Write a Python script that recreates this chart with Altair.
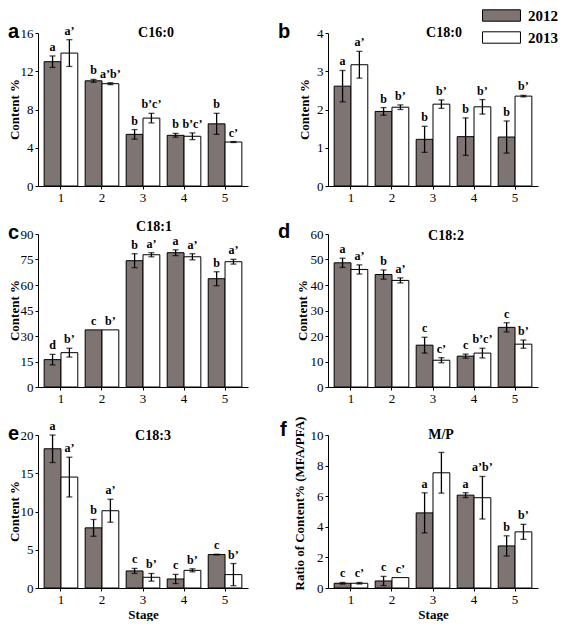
import altair as alt
import pandas as pd

stages = ["1", "2", "3", "4", "5"]
years = ["2012", "2013"]

# C16:0
c160_2012 = [13.0, 11.0, 5.4, 5.3, 6.5]
c160_2012_err = [0.6, 0.15, 0.5, 0.2, 1.1]
c160_2013 = [13.9, 10.7, 7.1, 5.2, 4.6]
c160_2013_err = [1.4, 0.1, 0.5, 0.35, 0.05]
c160_2012_sig = ["a", "b", "b", "b", "b"]
c160_2013_sig = ["a’", "a’b’", "b’c’", "b’c’", "c’"]
c160_ticks = [0, 4, 8, 12, 16]

# C18:0
c180_2012 = [2.61, 1.95, 1.22, 1.29, 1.28]
c180_2012_err = [0.41, 0.1, 0.34, 0.49, 0.42]
c180_2013 = [3.17, 2.06, 2.14, 2.07, 2.35]
c180_2013_err = [0.35, 0.06, 0.11, 0.19, 0.02]
c180_2012_sig = ["a", "b", "b", "b", "b"]
c180_2013_sig = ["a’", "b’", "b’", "b’", "b’"]
c180_ticks = [0, 1, 2, 3, 4]

# C18:1
c181_2012 = [16.1, 33.6, 74.3, 79.0, 63.7]
c181_2012_err = [3.1, 0.0, 4.1, 1.7, 4.1]
c181_2013 = [20.2, 33.6, 77.8, 76.6, 73.7]
c181_2013_err = [2.6, 0.0, 1.2, 1.8, 1.4]
c181_2012_sig = ["d", "c", "b", "a", "b"]
c181_2013_sig = ["b’", "b’", "a’", "a’", "a’"]
c181_ticks = [0, 15, 30, 45, 60, 75, 90]

# C18:2
c182_2012 = [48.7, 44.1, 16.4, 12.1, 23.4]
c182_2012_err = [1.8, 1.8, 3.1, 0.8, 1.8]
c182_2013 = [46.1, 41.8, 10.5, 13.3, 16.8]
c182_2013_err = [1.8, 1.0, 1.0, 1.9, 1.6]
c182_2012_sig = ["a", "b", "c", "c", "c"]
c182_2013_sig = ["a’", "a’", "c’", "b’c’", "b’"]
c182_ticks = [0, 10, 20, 30, 40, 50, 60]

# C18:3
c183_2012 = [18.2, 7.86, 2.23, 1.18, 4.37]
c183_2012_err = [1.8, 1.1, 0.33, 0.6, 0.05]
c183_2013 = [14.5, 10.1, 1.4, 2.31, 1.75]
c183_2013_err = [2.6, 1.5, 0.5, 0.2, 1.45]
c183_2012_sig = ["a", "b", "c", "c", "c"]
c183_2013_sig = ["a’", "a’", "b’", "b’", "b’"]
c183_ticks = [0, 5, 10, 15, 20]

# M/P
mp_2012 = [0.31, 0.46, 4.91, 6.07, 2.75]
mp_2012_err = [0.05, 0.3, 1.31, 0.16, 0.66]
mp_2013 = [0.31, 0.68, 7.53, 5.9, 3.67]
mp_2013_err = [0.05, 0.0, 1.33, 1.39, 0.49]
mp_2012_sig = ["c", "c", "a", "a", "b"]
mp_2013_sig = ["c’", "c’", "", "a’b’", "b’"]
mp_ticks = [0, 2, 4, 6, 8, 10]

SERIF = "Liberation Serif"
SANS = "Liberation Sans"
W, H = 210, 153


def make_df(v12, e12, s12, v13, e13, s13):
    rows = []
    for i, st in enumerate(stages):
        for yr, v, e, s in (("2012", v12[i], e12[i], s12[i]), ("2013", v13[i], e13[i], s13[i])):
            rows.append(dict(stage=st, year=yr, value=v, err=e, lo=v - e, hi=v + e, sig=s))
    return pd.DataFrame(rows)


color = alt.Color(
    "year:N",
    sort=years,
    scale=alt.Scale(domain=years, range=["#7e7471", "#ffffff"]),
    legend=alt.Legend(
        title=None,
        orient="none",
        legendX=456,
        legendY=-25,
        padding=0,
        symbolType="M-3,-0.9H3V0.9H-3Z",
        symbolSize=160,
        symbolStrokeColor="black",
        symbolStrokeWidth=1,
        symbolOpacity=1,
        labelFont=SERIF,
        labelFontSize=15,
        labelFontWeight="bold",
        labelColor="black",
        labelOffset=19,
        rowPadding=5,
    ),
)


def panel(df, title, letter, ticks, ytitle, xtitle, tpos, lpos, ytpos):
    xsc = alt.Scale(paddingInner=0.18, paddingOuter=0.15)
    xax = alt.Axis(labelAngle=0, ticks=True)

    def X():
        return alt.X("stage:N", sort=stages, scale=xsc, axis=xax, title=xtitle)

    def XO():
        return alt.XOffset("year:N", sort=years, scale=alt.Scale(paddingInner=0, paddingOuter=0))

    ysc = alt.Scale(domain=[ticks[0], ticks[-1]], nice=False)
    yax = alt.Axis(
        values=ticks,
        format="d",
        titleX=ytpos[0],
        titleY=ytpos[1],
        titleAngle=270,
        titleAlign="center",
        titleBaseline="middle",
    )

    def Y(f):
        return alt.Y(f, scale=ysc, axis=yax, title=ytitle)

    base = alt.Chart(df)
    bars = base.mark_bar(stroke="black", strokeWidth=1).encode(
        x=X(), xOffset=XO(), y=Y("value:Q"), color=color
    )
    ed = base.transform_filter("datum.err > 0")
    rules = ed.mark_rule(color="black", strokeWidth=1.3).encode(
        x=X(), xOffset=XO(), y=Y("lo:Q"), y2="hi:Q"
    )
    cap_lo = ed.mark_tick(color="black", size=6, thickness=1.3).encode(
        x=X(), xOffset=XO(), y=Y("lo:Q")
    )
    cap_hi = ed.mark_tick(color="black", size=6, thickness=1.3).encode(
        x=X(), xOffset=XO(), y=Y("hi:Q")
    )
    sig = base.mark_text(
        font=SERIF, fontSize=12, fontWeight="bold", baseline="bottom", dy=-2, color="black"
    ).encode(x=X(), xOffset=XO(), y=Y("hi:Q"), text="sig:N")
    ttl = alt.Chart(pd.DataFrame({"t": [title]})).mark_text(
        font=SERIF, fontSize=14, fontWeight="bold", baseline="middle", align="center", color="black"
    ).encode(text="t:N", x=alt.value(tpos[0]), y=alt.value(tpos[1]))
    let = alt.Chart(pd.DataFrame({"t": [letter]})).mark_text(
        font=SANS, fontSize=20, fontWeight="bold", baseline="alphabetic", align="left", color="black"
    ).encode(text="t:N", x=alt.value(lpos[0]), y=alt.value(lpos[1]))
    return alt.layer(bars, rules, cap_lo, cap_hi, sig, ttl, let).properties(width=W, height=H)


df_a = make_df(c160_2012, c160_2012_err, c160_2012_sig, c160_2013, c160_2013_err, c160_2013_sig)
df_b = make_df(c180_2012, c180_2012_err, c180_2012_sig, c180_2013, c180_2013_err, c180_2013_sig)
df_c = make_df(c181_2012, c181_2012_err, c181_2012_sig, c181_2013, c181_2013_err, c181_2013_sig)
df_d = make_df(c182_2012, c182_2012_err, c182_2012_sig, c182_2013, c182_2013_err, c182_2013_sig)
df_e = make_df(c183_2012, c183_2012_err, c183_2012_sig, c183_2013, c183_2013_err, c183_2013_sig)
df_f = make_df(mp_2012, mp_2012_err, mp_2012_sig, mp_2013, mp_2013_err, mp_2013_sig)

pa = panel(df_a, "C16:0", "a", c160_ticks, "Content %", None, (118, 0), (-30, 5), (-24, 76))
pb = panel(df_b, "C18:0", "b", c180_ticks, "Content %", None, (116, 0), (-50, 5), (-24, 76))
pc = panel(df_c, "C18:1", "c", c181_ticks, "Content %", None, (116, -7), (-30, 5), (-24, 76))
pd_ = panel(df_d, "C18:2", "d", c182_ticks, "Content %", None, (118, 2), (-50, 4), (-26, 76))
pe = panel(df_e, "C18:3", "e", c183_ticks, "Content %", "Stage", (115, 1), (-30, 5), (-24, 76))
pf = panel(df_f, "M/P", "f", mp_ticks, "Ratio of Content% (MFA/PFA)", "Stage", (113, 0), (-48, 1), (-29, 68))

chart = (
    alt.concat(pa, pb, pc, pd_, pe, pf, columns=2, spacing={"row": 48, "column": 80}, bounds="flush")
    .properties(padding=0)
    .configure_view(stroke=None)
    .configure_axis(
        labelFont=SERIF,
        labelFontSize=13,
        labelColor="black",
        titleFont=SERIF,
        titleFontSize=13,
        titleFontWeight="bold",
        titleColor="black",
        domainColor="black",
        domainWidth=1,
        tickColor="black",
        tickSize=3,
        tickWidth=1,
        grid=False,
        labelPadding=2,
    )
    .configure_axisX(titlePadding=2)
)

chart.save("out.html", embed_options={"renderer": "svg", "actions": False})
